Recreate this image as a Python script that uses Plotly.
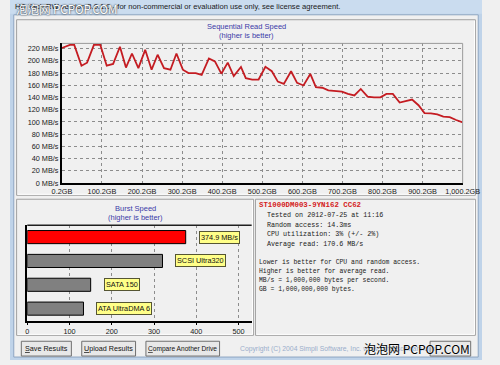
import plotly.graph_objects as go

# ---------------- data ----------------
seq_gb = [0.2, 20, 31, 49, 63, 80, 96, 112, 128, 145, 160, 175, 191, 208, 224, 239, 255, 271, 286, 302,
          316, 334, 349, 367, 382, 398, 414, 429, 447, 459, 475, 491, 508, 524, 539, 554, 572, 587, 603,
          620, 634, 650, 665, 681, 699, 714, 730, 746, 763, 779, 795, 810, 826, 843, 858, 874, 890, 905,
          921, 937, 952, 968, 984, 1000.2]
seq_mbs = [221, 226, 226, 192, 197, 226, 226, 192, 195, 223, 189, 212, 188, 218, 185.5, 210, 188, 185.5,
           212, 185.5, 180, 180, 177, 204, 199, 179, 197, 175, 190, 171.6, 169.4, 169.4, 190.3, 183, 166,
           162.4, 183, 164, 159.7, 178.5, 157, 156, 151.6, 150.5, 149.5, 146, 143.5, 154, 141.5, 140.4,
           140.4, 146, 146, 131.8, 134.5, 136.6, 127.4, 114.5, 114, 112.4, 108.7, 108, 103.2, 99.5]
y_ticks = [0, 20, 40, 60, 80, 100, 120, 140, 160, 180, 200, 220]
y_tick_labels = [f"{v} MB/s" for v in y_ticks]
x_ticks = [0.2, 100.2, 200.2, 300.2, 400.2, 500.2, 600.2, 700.2, 800.2, 900.2, 1000.2]
x_tick_labels = ["0.2GB", "100.2GB", "200.2GB", "300.2GB", "400.2GB", "500.2GB", "600.2GB",
                 "700.2GB", "800.2GB", "900.2GB", "1,000.2GB"]

burst_names = ["This drive", "SCSI Ultra320", "SATA 150", "ATA UltraDMA 6"]
burst_values = [374.9, 320, 150, 133]
burst_labels = ["374.9 MB/s", "SCSI Ultra320", "SATA 150", "ATA UltraDMA 6"]
burst_colors = ["#ff0000", "#808080", "#808080", "#808080"]
burst_ticks = [0, 100, 200, 300, 400, 500]

drive_name = "ST1000DM003-9YN162 CC62"
info_lines = ["Tested on 2012-07-25 at 11:16",
              "Random access: 14.3ms",
              "CPU utilization: 3% (+/- 2%)",
              "Average read: 170.6 MB/s"]
note_lines = ["Lower is better for CPU and random access.",
              "Higher is better for average read.",
              "MB/s = 1,000,000 bytes per second.",
              "GB = 1,000,000,000 bytes."]

W, H = 500, 365
def X(p): return p / W
def Y(p): return 1 - p / H

SANS = "Liberation Sans, Arial, sans-serif"
MONO = "Liberation Mono, Courier New, monospace"
BG = "#f0f0f0"

fig = go.Figure()
fig.add_trace(go.Scatter(x=seq_gb, y=seq_mbs, mode="lines",
                         line=dict(color="#c41c22", width=1.8), xaxis="x", yaxis="y",
                         hoverinfo="skip", showlegend=False))
fig.add_trace(go.Bar(x=burst_values, y=burst_names, orientation="h",
                     marker=dict(color=burst_colors, line=dict(color="#000000", width=1)),
                     xaxis="x2", yaxis="y2", hoverinfo="skip", showlegend=False))

shapes = []
ann = []

def text(x, y, t, size, color, family=SANS, anchor="center", **kw):
    ann.append(dict(x=X(x), y=Y(y), xref="paper", yref="paper", text=t, showarrow=False,
                    xanchor=anchor, yanchor="middle", font=dict(family=family, size=size, color=color, **kw)))

# window frame / title bar
shapes.append(dict(type="rect", xref="paper", yref="paper", x0=0, x1=1, y0=0, y1=1,
                   fillcolor="#bfd3e9", line=dict(width=0), layer="below"))
shapes.append(dict(type="rect", xref="paper", yref="paper", x0=X(0), x1=X(500), y0=Y(14), y1=Y(0),
                   fillcolor="#cadcef", line=dict(width=0), layer="below"))
shapes.append(dict(type="rect", xref="paper", yref="paper", x0=X(4), x1=X(496), y0=Y(362), y1=Y(15),
                   fillcolor=BG, line=dict(color="#8ea6c2", width=1), layer="below"))

# panels
def panel(x0, y0, x1, y1):
    shapes.append(dict(type="rect", xref="paper", yref="paper", x0=X(x0), x1=X(x1), y0=Y(y1), y1=Y(y0),
                       fillcolor=BG, line=dict(color="#a0a0a0", width=1), layer="below"))
    shapes.append(dict(type="path", xref="paper", yref="paper",
                       path=f"M {X(x0+1)} {Y(y1-1)} L {X(x1-1)} {Y(y1-1)} L {X(x1-1)} {Y(y0+1)}",
                       line=dict(color="#ffffff", width=1), layer="below"))
panel(7, 20, 493, 198)
panel(7, 202, 258, 340)
panel(260, 202, 493, 340)

# plot borders (top / right gray for sequential chart)
shapes.append(dict(type="path", xref="paper", yref="paper",
                   path=f"M {X(55)} {Y(44)} L {X(479.5)} {Y(44)} L {X(479.5)} {Y(185.7)}",
                   line=dict(color="#9a9a9a", width=1)))
shapes.append(dict(type="line", xref="paper", yref="paper", x0=X(18.3), x1=X(256), y0=Y(228.3), y1=Y(228.3),
                   line=dict(color="#202020", width=1.5)))

# titles
title_col = "#3b3ba8"
text(250, 27, "Sequential Read Speed", 7.5, title_col)
text(250, 36, "(higher is better)", 7.5, title_col)
text(132.5, 211.7, "Burst Speed", 7.5, title_col)
text(132.5, 220.5, "(higher is better)", 7.5, title_col)

# burst labels
for name, v, lab in zip(burst_names, burst_values, burst_labels):
    ann.append(dict(x=v, y=name, xref="x2", yref="y2", text=lab, showarrow=False,
                    xanchor="left", xshift=13, bgcolor="#ffff88", bordercolor="#555533",
                    borderwidth=1, borderpad=1, font=dict(family=SANS, size=7.3, color="#111111")))

# info panel text
text(262, 208.3, f"<b>{drive_name}</b>", 7.4, "#d42020", family=MONO, anchor="left")
for i, line in enumerate(info_lines):
    text(270, 218.3 + 9.6 * i, line, 6.7, "#202020", family=MONO, anchor="left")
for i, line in enumerate(note_lines):
    text(262, 265.7 + 9.4 * i, line, 6.4, "#202020", family=MONO, anchor="left")

# buttons
def button(x0, x1, label, size=7.2):
    shapes.append(dict(type="rect", xref="paper", yref="paper", x0=X(x0), x1=X(x1), y0=Y(361), y1=Y(346),
                       fillcolor="#e8e8e8", line=dict(color="#707070", width=1)))
    text((x0 + x1) / 2, 353.5, label, size, "#111111")
button(12, 65, "<u>S</u>ave Results")
button(76, 133, "<u>U</u>pload Results")
button(144, 222, "<u>C</u>ompare Another Drive", 6.6)
shapes.append(dict(type="rect", xref="paper", yref="paper", x0=X(445), x1=X(488), y0=Y(361), y1=Y(346),
                   fillcolor="#e8e8e8", line=dict(color="#707070", width=1)))
text(242, 354, "Copyright (C) 2004 Simpli Software, Inc. www.simplisoftware.com", 6.8, "#9aaecb", anchor="left")
text(489, 353.5, "泡泡网 PCPOP.COM", 12, "#000000", family="Noto Sans CJK SC, sans-serif", anchor="right",
     shadow="0px 0px 2px #ffffff")

# title bar text + watermark
text(3, 7, "HD Tach RW version 3.0.1.0 - for non-commercial or evaluation use only, see license agreement.",
     7.6, "#1a1a1a", anchor="left")
text(4, 9, "泡泡网 PCPOP.COM", 11.5, "#ffffff", family="Noto Sans CJK SC, sans-serif", anchor="left",
     shadow="0px 0px 2px #000000")

tickfont = dict(family=SANS, size=7.3, color="#202020")
fig.update_layout(
    width=W, height=H, margin=dict(l=0, r=0, t=0, b=0),
    paper_bgcolor=BG, plot_bgcolor=BG,
    showlegend=False, bargap=0.45,
    xaxis=dict(domain=[X(55), X(479.5)], range=[0.2, 1000.2], anchor="y",
               tickvals=x_ticks, ticktext=x_tick_labels, tickfont=tickfont,
               showgrid=True, gridcolor="#8c8c8c", griddash="dot", gridwidth=1,
               showline=True, linecolor="#000000", linewidth=2, zeroline=False, ticks=""),
    yaxis=dict(domain=[Y(185.7), Y(44)], range=[0, 228.5], anchor="x",
               tickvals=y_ticks, ticktext=y_tick_labels, tickfont=tickfont,
               showgrid=True, gridcolor="#8c8c8c", griddash="dot", gridwidth=1,
               showline=True, linecolor="#000000", linewidth=2, zeroline=False, ticks=""),
    xaxis2=dict(domain=[X(18.3), X(256)], range=[0, 531], anchor="y2",
                tickvals=burst_ticks, tickfont=tickfont,
                showgrid=True, gridcolor="#8c8c8c", griddash="dot", gridwidth=1,
                showline=True, linecolor="#000000", linewidth=1.5, zeroline=False, ticks="outside",
                ticklen=3, tickcolor="#000000"),
    yaxis2=dict(domain=[Y(325), Y(228.3)], anchor="x2", autorange="reversed",
                showticklabels=False, showgrid=False, ticks="",
                showline=True, linecolor="#000000", linewidth=1.5, zeroline=False),
    shapes=shapes, annotations=ann,
)

fig.write_html("out.html")
